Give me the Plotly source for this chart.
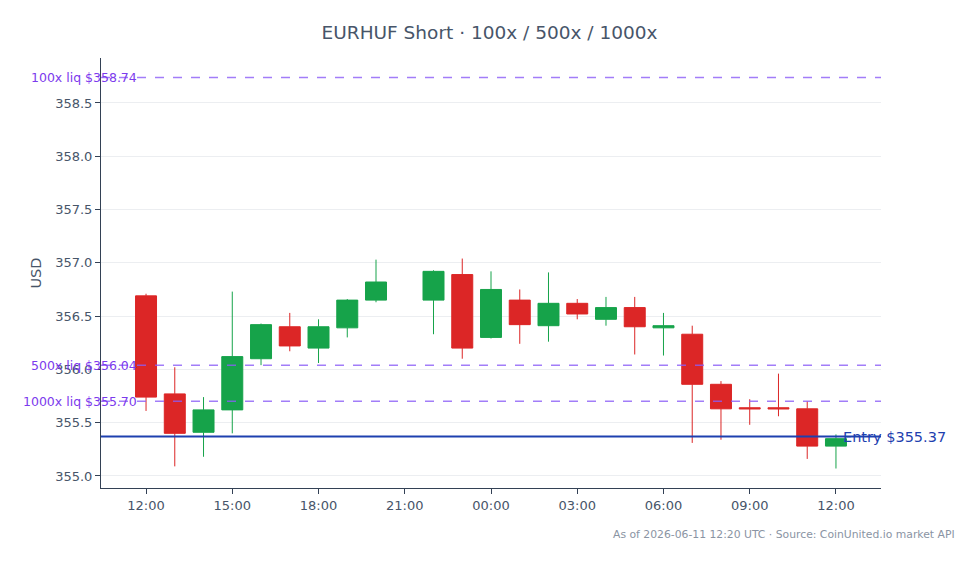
import plotly.graph_objects as go

times = [
    "2026-06-10 12:00", "2026-06-10 13:00", "2026-06-10 14:00", "2026-06-10 15:00",
    "2026-06-10 16:00", "2026-06-10 17:00", "2026-06-10 18:00", "2026-06-10 19:00",
    "2026-06-10 20:00", "2026-06-10 22:00", "2026-06-10 23:00", "2026-06-11 00:00",
    "2026-06-11 01:00", "2026-06-11 02:00", "2026-06-11 03:00", "2026-06-11 04:00",
    "2026-06-11 05:00", "2026-06-11 06:00", "2026-06-11 07:00", "2026-06-11 08:00",
    "2026-06-11 09:00", "2026-06-11 10:00", "2026-06-11 11:00", "2026-06-11 12:00",
]
opens = [356.69, 355.77, 355.41, 355.62, 356.10, 356.40, 356.20, 356.39, 356.65, 356.65,
         356.89, 356.30, 356.65, 356.41, 356.62, 356.47, 356.58, 356.39, 356.33, 355.86,
         355.64, 355.64, 355.63, 355.28]
highs = [356.71, 356.02, 355.74, 356.73, 356.43, 356.53, 356.47, 356.66, 357.03, 356.93,
         357.04, 356.92, 356.75, 356.91, 356.66, 356.68, 356.68, 356.53, 356.41, 355.89,
         355.72, 355.96, 355.70, 355.39]
lows = [355.61, 355.09, 355.18, 355.40, 356.04, 356.17, 356.06, 356.30, 356.63, 356.33,
        356.10, 356.29, 356.24, 356.26, 356.47, 356.41, 356.14, 356.13, 355.31, 355.34,
        355.48, 355.56, 355.16, 355.07]
closes = [355.74, 355.40, 355.62, 356.12, 356.42, 356.22, 356.40, 356.65, 356.82, 356.92,
          356.20, 356.75, 356.42, 356.62, 356.52, 356.58, 356.40, 356.41, 355.86, 355.63,
          355.63, 355.63, 355.28, 355.35]

entry_price = 355.37
liq_labels = ["100x liq $358.74", "500x liq $356.04", "1000x liq $355.70"]
liq_prices = [358.74, 356.04, 355.70]

FONT = "DejaVu Sans"
SLATE = "#475569"
AXIS = "#334155"
PURPLE_LINE = "rgba(139,92,246,0.8)"
PURPLE_TEXT = "#7c3aed"
BLUE = "#1e40af"

fig = go.Figure()
fig.add_trace(go.Candlestick(
    x=times, open=opens, high=highs, low=lows, close=closes,
    increasing=dict(line=dict(color="#16a34a", width=1), fillcolor="#16a34a"),
    decreasing=dict(line=dict(color="#dc2626", width=1), fillcolor="#dc2626"),
    showlegend=False,
))

for lbl, p in zip(liq_labels, liq_prices):
    fig.add_shape(type="line", xref="paper", x0=0, x1=1, yref="y", y0=p, y1=p,
                  line=dict(color=PURPLE_LINE, width=1.5, dash="dash"))
    fig.add_annotation(x=times[0], xref="x", y=p, yref="y", text=lbl, showarrow=False,
                       xanchor="right", yanchor="middle", xshift=-7,
                       font=dict(family=FONT, size=12.5, color=PURPLE_TEXT))

fig.add_shape(type="line", xref="paper", x0=0, x1=1, yref="y", y0=entry_price, y1=entry_price,
              line=dict(color=BLUE, width=2))
fig.add_annotation(x=times[-1], xref="x", y=entry_price, yref="y", text=f"Entry ${entry_price:.2f}",
                   showarrow=False, xanchor="left", yanchor="middle", xshift=5,
                   font=dict(family=FONT, size=14.5, color=BLUE))

fig.add_annotation(x=1.097, xref="paper", y=-0.109, yref="paper",
                   text="As of 2026-06-11 12:20 UTC · Source: CoinUnited.io market API",
                   showarrow=False, xanchor="right", yanchor="middle",
                   font=dict(family=FONT, size=10.8, color="#8a94a3"))

fig.update_layout(
    width=979, height=564,
    margin=dict(l=101, r=98, t=58, b=76),
    paper_bgcolor="white", plot_bgcolor="white",
    boxgap=0.27, boxgroupgap=0,
    font=dict(family=FONT, size=13, color=SLATE),
    title=dict(text="EURHUF Short · 100x / 500x / 1000x", x=0.5, xanchor="center",
               y=1 - 33 / 564, yanchor="middle",
               font=dict(family=FONT, size=18.5, color=SLATE)),
    xaxis=dict(
        type="date", range=["2026-06-10 10:26", "2026-06-11 13:34"],
        rangeslider=dict(visible=False), showgrid=False,
        tickformat="%H:%M", dtick=3 * 3600 * 1000, tick0="2026-06-10 12:00",
        showline=True, linecolor=AXIS, linewidth=1, ticks="outside", ticklen=5, tickcolor=AXIS,
        tickfont=dict(family=FONT, size=13, color=SLATE),
    ),
    yaxis=dict(
        range=[354.887, 358.922], dtick=0.5, tick0=355,
        showgrid=True, gridcolor="#eceef1", gridwidth=1, zeroline=False,
        showline=True, linecolor=AXIS, linewidth=1, ticks="outside", ticklen=5, tickcolor=AXIS,
        tickformat=".1f",
        tickfont=dict(family=FONT, size=13, color=SLATE),
        title=dict(text="USD", standoff=10, font=dict(family=FONT, size=14.5, color=SLATE)),
    ),
)

fig.write_html("out.html")
